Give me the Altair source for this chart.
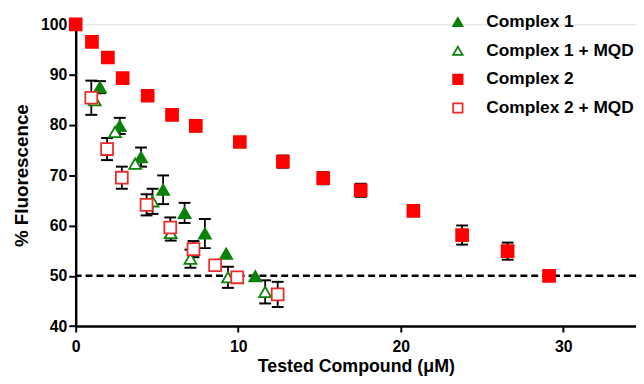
import altair as alt
import pandas as pd

# ---- data ----
c1_x = [1.49, 2.71, 4.02, 5.38, 6.70, 7.95, 9.26, 11.05]
c1_y = [87.5, 79.8, 73.6, 67.1, 62.5, 58.4, 54.4, 49.9]
c1_e = [1.2, 1.6, 1.9, 2.85, 2.0, 2.9, 0.0, 0.0]

c1m_x = [1.17, 2.42, 3.66, 4.73, 5.85, 7.06, 9.37, 11.66]
c1m_y = [84.9, 78.6, 72.3, 64.8, 58.5, 53.4, 49.7, 46.8]
c1m_e = [0.0, 0.0, 0.0, 2.5, 1.5, 1.8, 2.1, 2.3]

c2_x = [0.0, 1.0, 1.98, 2.89, 4.43, 5.93, 7.39, 10.1, 12.75, 15.23, 17.54, 20.78, 23.78, 26.58, 29.13]
c2_y = [100.0, 96.5, 93.4, 89.3, 85.8, 82.0, 79.8, 76.6, 72.7, 69.4, 67.0, 62.9, 58.1, 54.9, 50.0]
c2_e = [0.0, 0.0, 0.0, 0.0, 0.0, 0.0, 1.1, 0.0, 1.2, 1.2, 1.3, 0.0, 1.9, 1.7, 0.8]

c2m_x = [0.96, 1.93, 2.84, 4.36, 5.82, 7.25, 8.58, 9.94, 12.43]
c2m_y = [85.4, 75.2, 69.5, 64.1, 59.6, 55.3, 52.1, 49.7, 46.3]
c2m_e = [3.4, 2.2, 2.2, 2.1, 2.0, 1.6, 0.0, 0.0, 2.5]

series_names = ["Complex 1", "Complex 1 + MQD", "Complex 2", "Complex 2 + MQD"]
stroke_colors = ["#0a820a", "#0a820a", "#ff0000", "#ee2b2b"]
fill_colors = ["#0a820a", "#ffffff", "#ff0000", "#ffffff"]
shapes = ["triangle-up", "triangle-up", "square", "square"]

x_ticks = [0, 10, 20, 30]
y_ticks = [40, 50, 60, 70, 80, 90, 100]
threshold = [50]

rows = []
for name, xs, ys, es in zip(series_names,
                            [c1_x, c1m_x, c2_x, c2m_x],
                            [c1_y, c1m_y, c2_y, c2m_y],
                            [c1_e, c1m_e, c2_e, c2m_e]):
    for x, y, e in zip(xs, ys, es):
        rows.append({"series": name, "x": x, "y": y, "err": e,
                     "lo": y - e, "hi": y + e})
df = pd.DataFrame(rows)
err_df = df[df["err"] > 0]

FONT = "Liberation Sans"

xscale = alt.Scale(domain=[0, 34.48], nice=False, zero=False)
yscale = alt.Scale(domain=[40, 100], nice=False, zero=False)

xaxis = alt.Axis(values=x_ticks, title="Tested Compound (\u03bcM)", grid=False,
                 labelFont=FONT, labelFontSize=16, labelFontWeight="bold", labelColor="black",
                 titleFont=FONT, titleFontSize=18, titleFontWeight="bold", titleColor="black",
                 domainColor="black", domainWidth=2.5, tickColor="black", tickWidth=2,
                 tickSize=6, labelPadding=7, titlePadding=3, labelFlush=False)
yaxis = alt.Axis(values=y_ticks, title="% Fluorescence", grid=False,
                 labelFont=FONT, labelFontSize=16, labelFontWeight="bold", labelColor="black",
                 titleFont=FONT, titleFontSize=19, titleFontWeight="bold", titleColor="black",
                 domainColor="black", domainWidth=2.5, tickColor="black", tickWidth=2,
                 tickSize=7, labelPadding=2, titlePadding=9, labelFlush=False)

base = alt.Chart(df)

dash = alt.Chart(pd.DataFrame({"y": threshold})).mark_rule(
    color="black", strokeWidth=2.5, strokeDash=[7, 4]
).encode(y=alt.Y("y:Q", scale=yscale, axis=yaxis))

bars = alt.Chart(err_df).mark_rule(color="black", strokeWidth=1.8).encode(
    x=alt.X("x:Q", scale=xscale, axis=xaxis),
    y=alt.Y("lo:Q", scale=yscale, axis=yaxis),
    y2="hi:Q",
)
cap_lo = alt.Chart(err_df).mark_tick(color="black", orient="horizontal", size=12, thickness=2, opacity=1).encode(
    x=alt.X("x:Q", scale=xscale), y=alt.Y("lo:Q", scale=yscale))
cap_hi = alt.Chart(err_df).mark_tick(color="black", orient="horizontal", size=12, thickness=2, opacity=1).encode(
    x=alt.X("x:Q", scale=xscale), y=alt.Y("hi:Q", scale=yscale))

legend = alt.Legend(title=None, orient="none", legendX=378, legendY=-11,
                    labelFont=FONT, labelFontSize=17.5, labelFontWeight="bold", labelColor="black",
                    symbolSize=90, symbolStrokeWidth=1.8, rowPadding=10, labelOffset=20,
                    padding=0, offset=0)

points = base.mark_point(opacity=1, size=145, strokeWidth=1.8).encode(
    x=alt.X("x:Q", scale=xscale, axis=xaxis),
    y=alt.Y("y:Q", scale=yscale, axis=yaxis),
    shape=alt.Shape("series:N", scale=alt.Scale(domain=series_names, range=shapes), legend=legend),
    stroke=alt.Stroke("series:N", scale=alt.Scale(domain=series_names, range=stroke_colors), legend=legend),
    fill=alt.Fill("series:N", scale=alt.Scale(domain=series_names, range=fill_colors), legend=legend),
)

chart = alt.layer(dash, bars, cap_lo, cap_hi, points).properties(
    width=567, height=305.4,
    autosize="none",
    padding={"left": 68.5, "top": 14.3, "right": 0, "bottom": 48},
).configure_view(stroke=None).configure(background="white")

chart.save("out.html", embed_options={"renderer": "svg", "actions": False})
